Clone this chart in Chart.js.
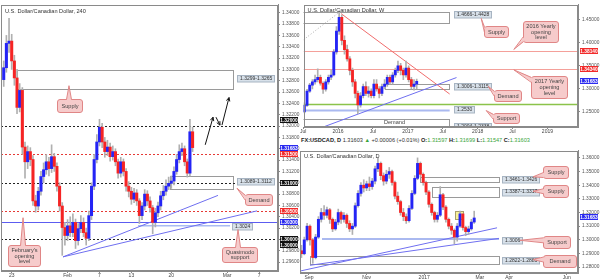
<!DOCTYPE html>
<html><head><meta charset="utf-8">
<script src="https://cdn.jsdelivr.net/npm/chart.js@4/dist/chart.umd.min.js"></script>
<style>
html,body{margin:0;padding:0;background:#fff;width:600px;height:280px;overflow:hidden;font-family:"Liberation Sans",Arial,sans-serif}
#wrap{position:relative;width:600px;height:280px}
canvas{position:absolute}
#c1{left:0;top:0}
#c2{left:300px;top:0}
#c3{left:300px;top:146px}
#hdr{position:absolute;left:301px;top:137px;font-size:5.6px;line-height:7px;white-space:nowrap;color:#333}
#hdr b{font-weight:bold;color:#222}
#hdr .g{color:#3aa53a}
</style></head>
<body><div id="wrap">
<canvas id="c1" width="300" height="280"></canvas>
<canvas id="c2" width="300" height="135"></canvas>
<canvas id="c3" width="300" height="134"></canvas>
<div id="hdr"><b>FX:USDCAD, D</b> 1.31603 <span class="g">&#9650;</span> +0.00006 (+0.01%) <b>O:</b><span class="g">1.31597</span> <b>H:</b><span class="g">1.31699</span> <b>L:</b><span class="g">1.31547</span> <b>C:</b><span class="g">1.31603</span></div>
</div>
<script>
// ---------- 4H chart (x = trading days since Jan 23) ----------
const h4Start = -1.0, h4Step = 1/3;
const h4Open0 = 1.3282;
const h4Close = [1.3303,1.3346,1.3350,1.3315,1.3285,1.3233,1.3263,1.3163,1.3137,1.3155,
 1.3141,1.3068,1.3059,1.3085,1.3111,1.3123,1.3137,1.3125,1.3146,1.3129,
 1.3094,1.3059,1.3021,1.3007,1.3024,1.3012,1.3030,1.2998,1.3019,1.3030,
 1.3012,1.3002,1.3042,1.3094,1.3141,1.3172,1.3198,1.3172,1.3155,1.3163,
 1.3146,1.3155,1.3137,1.3117,1.3137,1.3120,1.3094,1.3085,1.3071,1.3082,
 1.3068,1.3042,1.3059,1.3080,1.3068,1.3056,1.3030,1.3047,1.3059,1.3077,
 1.3085,1.3094,1.3099,1.3103,1.3120,1.3141,1.3155,1.3160,1.3137,1.3117,
 1.3190,1.3162];
const h4High = [1.3315,1.3360,1.3390,1.3362,1.3325,1.3300,1.3275,1.3268,1.3172,1.3165,
 1.3162,1.3148,1.3078,1.3092,1.3120,1.3135,1.3150,1.3145,1.3167,1.3152,
 1.3135,1.3100,1.3065,1.3030,1.3035,1.3040,1.3045,1.3036,1.3028,1.3042,
 1.3038,1.3020,1.3050,1.3100,1.3150,1.3185,1.3212,1.3205,1.3180,1.3175,
 1.3170,1.3165,1.3160,1.3142,1.3145,1.3142,1.3125,1.3102,1.3092,1.3090,
 1.3088,1.3072,1.3065,1.3088,1.3086,1.3075,1.3060,1.3055,1.3066,1.3085,
 1.3095,1.3105,1.3110,1.3112,1.3128,1.3150,1.3167,1.3170,1.3165,1.3142,
 1.3212,1.3198];
const h4Low = [1.3270,1.3295,1.3330,1.3300,1.3272,1.3222,1.3225,1.3150,1.3108,1.3125,
 1.3130,1.3060,1.3048,1.3052,1.3078,1.3100,1.3115,1.3112,1.3118,1.3120,
 1.3085,1.3050,1.2972,1.2990,1.2998,1.3005,1.3005,1.2984,1.2990,1.3012,
 1.3005,1.2990,1.2998,1.3035,1.3088,1.3135,1.3165,1.3162,1.3145,1.3148,
 1.3138,1.3140,1.3130,1.3108,1.3110,1.3112,1.3085,1.3075,1.3062,1.3065,
 1.3060,1.3028,1.3035,1.3052,1.3060,1.3048,1.3010,1.3022,1.3040,1.3052,
 1.3070,1.3078,1.3088,1.3090,1.3096,1.3115,1.3135,1.3148,1.3130,1.3110,
 1.3112,1.3155];
const h4YTicks = [1.296,1.298,1.300,1.302,1.304,1.306,1.308,1.310,1.312,1.314,1.316,1.318,1.320,1.322,1.324,1.326,1.328,1.330,1.332,1.334,1.336,1.338,1.340];
const h4XTicks = [0,7,11,15,20,27,31];
const h4XLabels = ['23','Feb','7','13','20','Mar','7'];

// ---------- Weekly chart (2-week candles, x = months since Jan 2016) ----------
const wkStart = -5.8, wkStep = 0.46;
const wkOpen0 = 1.2500;
const wkClose = [1.2640,1.2950,1.3080,1.3150,1.3200,1.3250,1.3120,1.2990,1.3150,1.3250,
 1.3300,1.3800,1.4250,1.4550,1.4050,1.3850,1.3650,1.3400,1.3150,1.2900,
 1.2650,1.2850,1.3050,1.2900,1.2950,1.2850,1.3100,1.3000,1.2900,1.3050,
 1.3100,1.3250,1.3150,1.3300,1.3400,1.3500,1.3400,1.3300,1.3450,1.3200,
 1.3050,1.3100,1.3160];
const wkHigh = [1.2700,1.2990,1.3120,1.3200,1.3300,1.3433,1.3300,1.3150,1.3200,1.3300,
 1.3400,1.3850,1.4350,1.4689,1.4600,1.4150,1.3950,1.3700,1.3450,1.3200,
 1.2950,1.2920,1.3100,1.3150,1.3050,1.3000,1.3200,1.3200,1.3050,1.3100,
 1.3200,1.3300,1.3300,1.3350,1.3450,1.3600,1.3550,1.3450,1.3600,1.3500,
 1.3250,1.3200,1.3210];
const wkLow = [1.2480,1.2620,1.2920,1.3000,1.3100,1.3150,1.3080,1.2900,1.2950,1.3100,
 1.3200,1.3280,1.3750,1.4180,1.3950,1.3750,1.3600,1.3300,1.3050,1.2800,
 1.2460,1.2600,1.2800,1.2850,1.2820,1.2800,1.2800,1.2950,1.2800,1.2850,
 1.3000,1.3050,1.3100,1.3100,1.3250,1.3350,1.3300,1.3200,1.3250,1.3150,
 1.3000,1.2970,1.3000];
const wkYTicks = [1.25,1.30,1.35,1.40,1.45];
const wkXTicks = [-6,0,6,12,18,24,30,36];
const wkXLabels = ['Jul','2016','Jul','2017','Jul','2018','Jul','2019'];

// ---------- Daily chart (3-day candles, x = days since Sep 1 2016) ----------
const dStart = -8, dStep = 3;
const dOpen0 = 1.2920;
const dClose = [1.2898,1.3000,1.3100,1.3000,1.2870,1.3020,1.3150,1.3200,1.3180,1.3220,
 1.3150,1.3080,1.3130,1.3200,1.3150,1.3180,1.3120,1.3080,1.3100,1.3250,
 1.3340,1.3400,1.3380,1.3410,1.3390,1.3430,1.3520,1.3560,1.3470,1.3430,
 1.3480,1.3500,1.3420,1.3320,1.3280,1.3200,1.3170,1.3140,1.3230,1.3340,
 1.3450,1.3560,1.3480,1.3420,1.3350,1.3260,1.3200,1.3150,1.3180,1.3330,
 1.3240,1.3150,1.3100,1.3070,1.3020,1.3100,1.3190,1.3090,1.3060,1.3080,
 1.3130,1.3160];
const dHigh = [1.2960,1.3020,1.3120,1.3110,1.3010,1.3040,1.3170,1.3230,1.3250,1.3240,
 1.3230,1.3160,1.3150,1.3225,1.3210,1.3200,1.3190,1.3140,1.3120,1.3270,
 1.3360,1.3420,1.3440,1.3430,1.3460,1.3450,1.3540,1.3600,1.3570,1.3490,
 1.3510,1.3530,1.3510,1.3430,1.3350,1.3290,1.3230,1.3190,1.3250,1.3360,
 1.3470,1.3600,1.3570,1.3490,1.3430,1.3360,1.3270,1.3210,1.3200,1.3390,
 1.3340,1.3250,1.3160,1.3120,1.3080,1.3120,1.3210,1.3190,1.3100,1.3100,
 1.3150,1.3210];
const dLow = [1.2870,1.2890,1.2990,1.2960,1.2828,1.2860,1.3010,1.3130,1.3150,1.3160,
 1.3120,1.3060,1.3070,1.3110,1.3120,1.3130,1.3090,1.3060,1.3039,1.3090,
 1.3240,1.3320,1.3350,1.3360,1.3360,1.3370,1.3410,1.3500,1.3440,1.3400,
 1.3410,1.3450,1.3400,1.3300,1.3260,1.3180,1.3140,1.3120,1.3130,1.3220,
 1.3330,1.3440,1.3460,1.3400,1.3330,1.3240,1.3180,1.3130,1.3130,1.3170,
 1.3220,1.3130,1.3080,1.3040,1.2970,1.2990,1.3090,1.3070,1.3030,1.3040,
 1.3070,1.3120];
const dYTicks = [1.28,1.29,1.30,1.31,1.32,1.33,1.34,1.35,1.36];
const dXTicks = [0,61,122,181,212,273];
const dXLabels = ['Sep','Nov','2017','Mar','Apr','Jun'];

// ---------- styles ----------
const FONT = '"Liberation Sans", Arial, sans-serif';
const UP = '#2424f5', DOWN = '#f52424', WICK = '#b0b0b0';
const RED = '#f22a2a', BLUE = '#2a2af0', BLACK = '#111';
const TL = '#6f6ff0';
Chart.defaults.font.family = FONT;

function line(c,x1,y1,x2,y2,col,w,d){c.beginPath();c.strokeStyle=col;c.lineWidth=w||1;c.setLineDash(d||[]);c.moveTo(x1,y1);c.lineTo(x2,y2);c.stroke();c.setLineDash([]);}
function rr(c,l,t,w,h,r){c.beginPath();c.moveTo(l+r,t);c.lineTo(l+w-r,t);c.arcTo(l+w,t,l+w,t+r,r);c.lineTo(l+w,t+h-r);c.arcTo(l+w,t+h,l+w-r,t+h,r);c.lineTo(l+r,t+h);c.arcTo(l,t+h,l,t+h-r,r);c.lineTo(l,t+r);c.arcTo(l,t,l+r,t,r);c.closePath();}
function clamp(v,a,b){return Math.max(a,Math.min(b,v));}

function annot(A){
  return {
    id:'annot',
    beforeDatasetsDraw(ch){
      const c=ch.ctx,a=ch.chartArea,X=v=>ch.scales.x.getPixelForValue(v),Y=v=>ch.scales.y.getPixelForValue(v);
      c.save();c.beginPath();c.rect(a.left,a.top,a.right-a.left,a.bottom-a.top);c.clip();
      (A.rects||[]).forEach(r=>{
        const x1=X(r.x1),x2=X(r.x2),y1=Y(r.v1),y2=Y(r.v2);
        const l=Math.round(Math.min(x1,x2))+0.5,t=Math.round(Math.min(y1,y2))+0.5,w=Math.round(Math.abs(x2-x1)),h=Math.round(Math.abs(y2-y1));
        if(r.fill){c.fillStyle=r.fill;c.fillRect(l,t,w,h);}
        c.strokeStyle=r.stroke||'#9a9a9a';c.lineWidth=1;c.setLineDash([]);c.strokeRect(l,t,w,h);
        if(r.text){c.fillStyle='#444';c.font='5.6px '+FONT;c.textAlign='center';c.textBaseline='middle';c.fillText(r.text,X(r.tx),Y(r.tv));}
      });
      (A.hlines||[]).forEach(h=>{const y=Math.round(Y(h.v))+0.5;line(c,a.left,y,a.right,y,h.c,h.w||1,h.d);});
      (A.segs||[]).forEach(s=>line(c,X(s.x1),Y(s.v1),X(s.x2),Y(s.v2),s.c,s.w||1,s.d));
      c.restore();
    },
    afterDatasetsDraw(ch){
      const c=ch.ctx,a=ch.chartArea,X=v=>ch.scales.x.getPixelForValue(v),Y=v=>ch.scales.y.getPixelForValue(v);
      c.save();c.beginPath();c.rect(a.left,a.top,a.right-a.left,a.bottom-a.top);c.clip();
      (A.arrows||[]).forEach(s=>{
        const x1=X(s.x1),y1=Y(s.v1),x2=X(s.x2),y2=Y(s.v2);
        line(c,x1,y1,x2,y2,'#111',1);
        const ang=Math.atan2(y2-y1,x2-x1),L=4;
        line(c,x2,y2,x2-L*Math.cos(ang-0.45),y2-L*Math.sin(ang-0.45),'#111',1);
        line(c,x2,y2,x2-L*Math.cos(ang+0.45),y2-L*Math.sin(ang+0.45),'#111',1);
      });
      (A.zlabels||[]).forEach(z=>{
        c.font='5px '+FONT;const tw=c.measureText(z.t).width;
        const l=Math.round(X(z.x))+0.5,y=Y(z.v),h=6.5,t=Math.round(y-h/2)+0.5;
        c.fillStyle='#d8e1ea';c.strokeStyle='#a7b4c2';c.lineWidth=1;
        c.fillRect(l,t,Math.round(tw+5),h);c.strokeRect(l,t,Math.round(tw+5),h);
        c.fillStyle='#333';c.textAlign='left';c.textBaseline='middle';c.fillText(z.t,l+2.5,y+0.3);
      });
      (A.callouts||[]).forEach(o=>{
        const l=Math.round(X(o.x1))+0.5,r=Math.round(X(o.x2))+0.5,t=Math.round(Y(o.v1))+0.5,b=Math.round(Y(o.v2))+0.5;
        const px=X(o.px),py=Y(o.pv),hw=2.5;let b0,b1,i0,i1;
        if(py<t&&px>=l&&px<=r){const bx=clamp(px,l+4,r-4);b0=[bx-hw,t];b1=[bx+hw,t];i0=[bx-hw,t+1];i1=[bx+hw,t+1];}
        else if(py>b&&px>=l&&px<=r){const bx=clamp(px,l+4,r-4);b0=[bx-hw,b];b1=[bx+hw,b];i0=[bx-hw,b-1];i1=[bx+hw,b-1];}
        else if(px<l){const by=clamp(py,t+3.5,b-3.5);b0=[l,by-hw];b1=[l,by+hw];i0=[l+1,by-hw];i1=[l+1,by+hw];}
        else {const by=clamp(py,t+3.5,b-3.5);b0=[r,by-hw];b1=[r,by+hw];i0=[r-1,by-hw];i1=[r-1,by+hw];}
        const fill='#f6cbcb',stroke='#e08686';
        rr(c,l,t,r-l,b-t,2.5);c.fillStyle=fill;c.fill();c.strokeStyle=stroke;c.lineWidth=1;c.stroke();
        c.beginPath();c.moveTo(i0[0],i0[1]);c.lineTo(px,py);c.lineTo(i1[0],i1[1]);c.closePath();c.fillStyle=fill;c.fill();
        c.beginPath();c.moveTo(b0[0],b0[1]);c.lineTo(px,py);c.lineTo(b1[0],b1[1]);c.strokeStyle=stroke;c.stroke();
        c.fillStyle='#444';c.font='5.6px '+FONT;c.textAlign='center';c.textBaseline='middle';
        const n=o.t.length,lh=5.6,cy=(t+b)/2;
        o.t.forEach((s,k)=>c.fillText(s,(l+r)/2,cy+(k-(n-1)/2)*lh));
      });
      c.restore();
    },
    afterDraw(ch){
      const c=ch.ctx,a=ch.chartArea,Y=v=>ch.scales.y.getPixelForValue(v);
      c.save();
      c.strokeStyle='#8a8a8a';c.lineWidth=1;c.setLineDash([]);
      c.strokeRect(Math.round(a.left)+0.5,Math.round(a.top)+0.5,Math.round(a.right-a.left)-1,Math.round(a.bottom-a.top)-1);
      c.fillStyle='#333';c.font='5.6px '+FONT;c.textAlign='left';c.textBaseline='middle';
      c.fillText(A.title,a.left+4,a.top+A.titleDy);
      (A.tags||[]).forEach(g=>{
        const y=Y(g.v)+(g.dy||0),h=6,l=a.right+2,w=ch.width-l-2;
        c.fillStyle=g.bg;c.fillRect(l,Math.round(y-h/2),w,h);
        c.fillStyle='#fff';c.font='bold 4.8px '+FONT;c.textAlign='center';c.textBaseline='middle';
        c.fillText(g.t,l+w/2,Math.round(y-h/2)+h/2+0.3);
      });
      c.restore();
    }
  };
}

function build(id,S){
  const wick=[],body=[],cols=[];let prev=S.open0;
  for(let i=0;i<S.close.length;i++){
    const x=S.x0+i*S.dx;
    wick.push({x:x,y:[S.low[i],S.high[i]]});
    body.push({x:x,y:[prev,S.close[i]]});
    cols.push(S.close[i]>=prev?UP:DOWN);
    prev=S.close[i];
  }
  return new Chart(document.getElementById(id),{
    type:'bar',
    data:{datasets:[
      {data:wick,backgroundColor:WICK,barThickness:1,grouped:false,order:2},
      {data:body,backgroundColor:cols,barThickness:S.bw,grouped:false,order:1}
    ]},
    options:{
      responsive:false,animation:false,devicePixelRatio:1,
      layout:{padding:S.pad},
      plugins:{legend:{display:false},tooltip:{enabled:false}},
      scales:{
        x:{type:'linear',min:S.xmin,max:S.xmax,offset:false,
          grid:{display:true,drawOnChartArea:false,drawTicks:true,tickLength:2,color:'#8a8a8a',offset:false},
          border:{display:true,color:'#8a8a8a'},
          ticks:{font:{size:5},color:'#444',padding:S.xpad,maxRotation:0,autoSkip:false,
            callback:(v)=>{const k=S.xt.indexOf(v);return k>=0?S.xl[k]:'';}},
          afterBuildTicks:s=>{s.ticks=S.xt.map(v=>({value:v}));},
          afterFit:s=>{s.height=S.xh;}},
        y:{position:'right',min:S.ymin,max:S.ymax,
          grid:{display:true,drawOnChartArea:false,drawTicks:true,tickLength:2,color:'#8a8a8a'},
          border:{display:true,color:'#8a8a8a'},
          ticks:{font:{size:4.8},color:'#555',padding:2,autoSkip:false,callback:(v)=>Number(v).toFixed(5)},
          afterBuildTicks:s=>{s.ticks=S.yt.map(v=>({value:v}));},
          afterFit:s=>{s.width=22;}}
      }
    },
    plugins:[annot(S.ann)]
  });
}

build('c1',{x0:h4Start,dx:h4Step,open0:h4Open0,close:h4Close,high:h4High,low:h4Low,bw:2.4,
  xmin:-1.341,xmax:33.37,ymin:1.29443,ymax:1.34139,yt:h4YTicks,xt:h4XTicks,xl:h4XLabels,
  pad:{left:1,top:1,right:0,bottom:0},xh:9,xpad:0,
  ann:{title:'U.S. Dollar/Canadian Dollar, 240',titleDy:7,
    rects:[{x1:0.66,x2:27.73,v1:1.3299,v2:1.3265},{x1:19.84,x2:27.73,v1:1.3112,v2:1.3089}],
    hlines:[{v:1.32,c:'#222',d:[2,2]},{v:1.315,c:'#e53935',d:[2,2]},{v:1.31,c:'#222',d:[2,2]},
      {v:1.305,c:'#e53935',d:[2,2]},{v:1.303,c:'#5c5cf0'},{v:1.30,c:'#222',d:[2,2]}],
    segs:[{x1:15.83,v1:1.3024,x2:27.36,v2:1.3024,c:'#a9bbf2',w:1.5},
      {x1:6.43,v1:1.29692,x2:25.85,v2:1.30777,c:TL},{x1:6.43,v1:1.29692,x2:30.74,v2:1.30504,c:TL}],
    arrows:[{x1:24.25,v1:1.3167,x2:25.23,v2:1.32157},{x1:25.60,v1:1.32157,x2:26.10,v2:1.32017},{x1:26.35,v1:1.32017,x2:27.23,v2:1.32504}],
    zlabels:[{x:28.23,v:1.3285,t:'1.3299-1.3265'},{x:28.23,v:1.3102,t:'1.3089-1.3112'},{x:27.6,v:1.3024,t:'1.3024'}],
    callouts:[{x1:5.68,x2:8.81,v1:1.3247,v2:1.32243,px:7.18,pv:1.32713,t:['Supply']},
      {x1:29.24,x2:32.62,v1:1.3080,v2:1.30609,px:28.23,pv:1.30904,t:['Demand']},
      {x1:26.35,x2:30.74,v1:1.29861,v2:1.2960,px:28.36,pv:1.30174,t:['Quasimodo','support']},
      {x1:-0.46,x2:3.55,v1:1.29896,v2:1.2953,px:1.42,pv:1.30383,t:["February's",'opening','level']}],
    tags:[{v:1.32,t:'1.32000',bg:BLACK,dy:-6},{v:1.31683,t:'1.31683',bg:BLUE,dy:4},{v:1.315,t:'1.31500',bg:RED},
      {v:1.31,t:'1.31000',bg:BLACK},{v:1.305,t:'1.30500',bg:RED},{v:1.303,t:'1.30300',bg:BLUE},
      {v:1.30,t:'1.30000',bg:BLACK},{v:1.30,t:'1.30000',bg:BLACK,dy:6}]
  }});

build('c2',{x0:wkStart,dx:wkStep,open0:wkOpen0,close:wkClose,high:wkHigh,low:wkLow,bw:2.2,
  xmin:-5.942,xmax:41.26,ymin:1.21723,ymax:1.4819,yt:wkYTicks,xt:wkXTicks,xl:wkXLabels,
  pad:{left:0,top:1,right:0,bottom:0},xh:8,xpad:0,
  ann:{title:'U.S. Dollar/Canadian Dollar, W',titleDy:6,
    rects:[{x1:-6.5,x2:19.19,v1:1.4666,v2:1.4428},{x1:8.15,x2:19.19,v1:1.3115,v2:1.3006},
      {x1:-6.5,x2:19.19,v1:1.2340,v2:1.2000,text:'Demand',tx:9.7,tv:1.2263}],
    hlines:[{v:1.3814,c:'#f4a09a'},{v:1.3434,c:'#f4a09a'},{v:1.267,c:'#8bc34a',w:1.5}],
    segs:[{x1:-6.5,v1:1.2530,x2:19.19,v2:1.2530,c:'#aab9f0',w:2},
      {x1:0.51,v1:1.463,x2:19.19,v2:1.2887,c:'#f06c6c'},
      {x1:-5.94,v1:1.4063,x2:0.34,v2:1.4672,c:'#aaaaaa',d:[1,2]},
      {x1:-2.55,v1:1.2172,x2:20.37,v2:1.3244,c:TL}],
    zlabels:[{x:19.86,v:1.4616,t:'1.4666-1.4428'},{x:19.86,v:1.306,t:'1.3006-1.3115'},
      {x:19.86,v:1.2550,t:'1.2530'},{x:19.86,v:1.2195,t:'1.2004-1.2338'}],
    callouts:[{x1:25.13,x2:29.20,v1:1.43571,v2:1.41261,px:24.62,pv:1.45252,t:['Supply']},
      {x1:31.75,x2:37.86,v1:1.44622,v2:1.4021,px:30.22,pv:1.38529,t:['2016 Yearly','opening','level']},
      {x1:33.11,x2:39.39,v1:1.32857,v2:1.28025,px:30.22,pv:1.34118,t:['2017 Yearly','opening','level']},
      {x1:26.83,x2:31.41,v1:1.29706,v2:1.27395,px:25.81,pv:1.30546,t:['Demand']},
      {x1:26.66,x2:31.07,v1:1.24664,v2:1.22563,px:25.47,pv:1.25294,t:['Support']}],
    tags:[{v:1.3814,t:'1.38140',bg:RED},{v:1.3434,t:'1.34340',bg:RED},{v:1.31683,t:'1.31683',bg:BLUE}]
  }});

build('c3',{x0:dStart,dx:dStep,open0:dOpen0,close:dClose,high:dHigh,low:dLow,bw:2.3,
  xmin:-9.53,xmax:284.96,ymin:1.2757,ymax:1.36514,yt:dYTicks,xt:dXTicks,xl:dXLabels,
  pad:{left:0,top:0,right:0,bottom:0},xh:7,xpad:0,
  ann:{title:'U.S. Dollar/Canadian Dollar, D',titleDy:6,
    rects:[{x1:117.6,x2:201.3,v1:1.3461,v2:1.3426},{x1:130.3,x2:201.3,v1:1.3387,v2:1.3317},
      {x1:1.06,x2:201.3,v1:1.2883,v2:1.2822},
      {x1:154.7,x2:163.1,v1:1.3213,v2:1.3154,fill:'rgba(246,236,120,0.75)',stroke:'#a89f6a'}],
    segs:[{x1:13.8,v1:1.3006,x2:201.3,v2:1.3006,c:'#aab9f0',w:2},
      {x1:-9.53,v1:1.27711,x2:199.2,v2:1.3088,c:TL},{x1:1.06,v1:1.28134,x2:201.3,v2:1.30106,c:TL}],
    zlabels:[{x:204.4,v:1.34435,t:'1.3461-1.3426'},{x:204.4,v:1.3352,t:'1.3387-1.3317'},
      {x:204.4,v:1.2998,t:'1.3006'},{x:204.4,v:1.28525,t:'1.2822-1.2883'}],
    callouts:[{x1:247.9,x2:274.4,v1:1.35387,v2:1.34542,px:237.3,pv:1.34613,t:['Supply']},
      {x1:247.9,x2:274.4,v1:1.33979,v2:1.33134,px:237.3,pv:1.33556,t:['Supply']},
      {x1:247.9,x2:276.5,v1:1.30246,v2:1.29401,px:223.5,pv:1.29965,t:['Support']},
      {x1:247.9,x2:282.8,v1:1.28908,v2:1.27993,px:237.3,pv:1.28556,t:['Demand']}],
    tags:[{v:1.31683,t:'1.31683',bg:BLUE}]
  }});
</script>
</body></html>
